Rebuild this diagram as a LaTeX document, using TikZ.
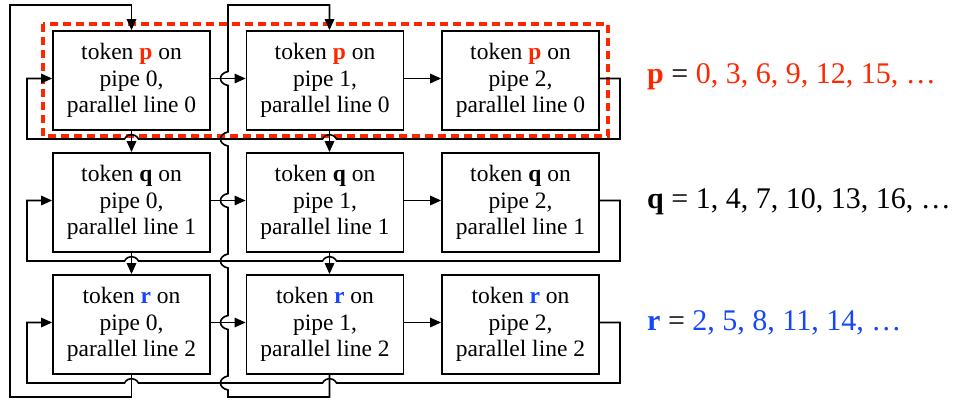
\documentclass[tikz,border=0pt]{standalone}
\usepackage{fontspec}
\setmainfont{Liberation Serif}
\usetikzlibrary{arrows.meta}
\definecolor{pred}{RGB}{255,38,0}
\definecolor{pblue}{RGB}{20,70,255}
\begin{document}
\begin{tikzpicture}[x=1pt,y=-1pt,
  box/.style={draw,line width=1.8pt,minimum width=157pt,minimum height=99pt,inner sep=0pt,align=center,font=\fontsize{23.5}{26.7}\selectfont},
  conn/.style={line width=1.6pt},
  arr/.style={conn,-{Triangle[length=11pt,width=9.5pt]}},
  lab/.style={anchor=base west,inner sep=0pt,font=\fontsize{30}{36}\selectfont},
  grp/.style={draw=pred,line width=3.6pt,dash pattern=on 8pt off 5pt}]
\useasboundingbox (0,0) rectangle (956,400);

% group frame
\draw[grp] (43,24) rectangle (608,136);

% boxes
\node[box] (a0) at (131.5,80.5) {token \textcolor{pred}{\textbf{p}} on\\pipe 0,\\parallel line 0};
\node[box] (b0) at (325,80.5) {token \textcolor{pred}{\textbf{p}} on\\pipe 1,\\parallel line 0};
\node[box] (c0) at (520.5,80.5) {token \textcolor{pred}{\textbf{p}} on\\pipe 2,\\parallel line 0};
\node[box] (a1) at (131.5,202.5) {token \textbf{q} on\\pipe 0,\\parallel line 1};
\node[box] (b1) at (325,202.5) {token \textbf{q} on\\pipe 1,\\parallel line 1};
\node[box] (c1) at (520.5,202.5) {token \textbf{q} on\\pipe 2,\\parallel line 1};
\node[box] (a2) at (131.5,324.5) {token \textcolor{pblue}{\textbf{r}} on\\pipe 0,\\parallel line 2};
\node[box] (b2) at (325,324.5) {token \textcolor{pblue}{\textbf{r}} on\\pipe 1,\\parallel line 2};
\node[box] (c2) at (520.5,324.5) {token \textcolor{pblue}{\textbf{r}} on\\pipe 2,\\parallel line 2};

% horizontal arrows
\draw[arr] ([yshift=2pt]a0.east) -- ([yshift=2pt]b0.west);
\draw[arr] ([yshift=2pt]b0.east) -- ([yshift=2pt]c0.west);
\draw[arr] ([yshift=2pt]a1.east) -- ([yshift=2pt]b1.west);
\draw[arr] ([yshift=2pt]b1.east) -- ([yshift=2pt]c1.west);
\draw[arr] ([yshift=2pt]a2.east) -- ([yshift=2pt]b2.west);
\draw[arr] ([yshift=2pt]b2.east) -- ([yshift=2pt]c2.west);

% vertical arrows
\draw[arr] (a0.south) -- (a1.north);
\draw[arr] (a1.south) -- (a2.north);
\draw[arr] ([xshift=4.5pt]b0.south) -- ([xshift=4.5pt]b1.north);
\draw[arr] ([xshift=4.5pt]b1.south) -- ([xshift=4.5pt]b2.north);

% row loops (pipe 2 back to pipe 0)
\draw[arr] ([yshift=2pt]c0.east) -- (620,78.5) -- (620,139) -- (336.5,139)
  .. controls (333,133) and (326,133) .. (322.5,139) -- (138.5,139)
  .. controls (135,133) and (128,133) .. (124.5,139) -- (27,139) -- (27,78.5) -- ([yshift=2pt]a0.west);
\draw[arr] ([yshift=2pt]c1.east) -- (620,200.5) -- (620,261) -- (336.5,261)
  .. controls (333,255) and (326,255) .. (322.5,261) -- (138.5,261)
  .. controls (135,255) and (128,255) .. (124.5,261) -- (27,261) -- (27,200.5) -- ([yshift=2pt]a1.west);
\draw[arr] ([yshift=2pt]c2.east) -- (620,322.5) -- (620,383) -- (336.5,383)
  .. controls (333,377) and (326,377) .. (322.5,383) -- (138.5,383)
  .. controls (135,377) and (128,377) .. (124.5,383) -- (27,383) -- (27,322.5) -- ([yshift=2pt]a2.west);

% column loops (line 2 back to line 0)
\draw[arr] (a2.south) -- (131.5,397) -- (10,397) -- (10,5) -- (131.5,5) -- (a0.north);
\draw[arr] ([xshift=4.5pt]b2.south) -- (329.5,397) -- (228,397)
  -- (228,390) .. controls (218,388) and (218,378) .. (228,376)
  -- (228,329.5) .. controls (218,327.5) and (218,317.5) .. (228,315.5)
  -- (228,268) .. controls (218,266) and (218,256) .. (228,254)
  -- (228,207.5) .. controls (218,205.5) and (218,195.5) .. (228,193.5)
  -- (228,146) .. controls (218,144) and (218,134) .. (228,132)
  -- (228,85.5) .. controls (218,83.5) and (218,73.5) .. (228,71.5)
  -- (228,5) -- (329.5,5) -- ([xshift=4.5pt]b0.north);

% labels
\node[lab] (lp) at (647,83) {\textcolor{pred}{\textbf{p}} = \textcolor{pred}{0, 3, 6, 9, 12, 15, …}};
\node[lab] (lq) at (647,208) {\textbf{q} = 1, 4, 7, 10, 13, 16, …};
\node[lab] (lr) at (647,330) {\textcolor{pblue}{\textbf{r}} = \textcolor{pblue}{2, 5, 8, 11, 14, …}};
\end{tikzpicture}
\end{document}
